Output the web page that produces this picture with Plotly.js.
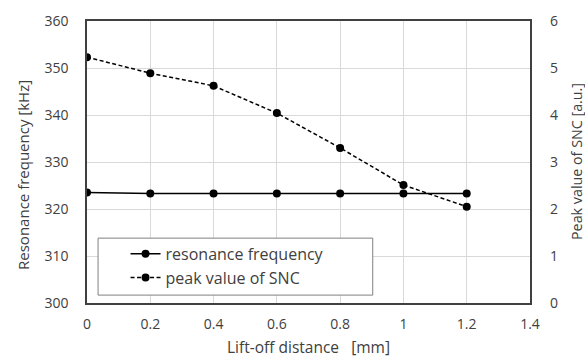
<!DOCTYPE html>
<html>
<head>
<meta charset="utf-8">
<script src="https://cdn.plot.ly/plotly-3.0.1.min.js"></script>
<style>html,body{margin:0;padding:0;background:#fff;}#chart{width:585px;height:359px;}</style>
</head>
<body>
<div id="chart"></div>
<script>
const liftOff = [0, 0.2, 0.4, 0.6, 0.8, 1.0, 1.2];
const resonanceFreq = [323.5, 323.3, 323.3, 323.3, 323.3, 323.3, 323.3];
const peakSNC = [5.23, 4.89, 4.62, 4.04, 3.30, 2.51, 2.05];
const xTicks = [0, 0.2, 0.4, 0.6, 0.8, 1, 1.2, 1.4];
const xTickLabels = ['0', '0.2', '0.4', '0.6', '0.8', '1', '1.2', '1.4'];
const xTitle = 'Lift-off distance\u00a0\u00a0\u00a0[mm]';
const yTitle = 'Resonance frequency [kHz]';
const y2Title = 'Peak value of SNC [a.u.]';

const fontFam = 'Open Sans, Noto Sans, sans-serif';
const txt = '#404040';

const traces = [
  {
    x: liftOff, y: resonanceFreq, name: 'resonance frequency',
    type: 'scatter', mode: 'lines+markers', yaxis: 'y',
    line: {color: '#000', width: 1.5},
    marker: {color: '#000', size: 8}
  },
  {
    x: liftOff, y: peakSNC, name: 'peak value of SNC',
    type: 'scatter', mode: 'lines+markers', yaxis: 'y2',
    line: {color: '#000', width: 1.5, dash: '4px,2.5px'},
    marker: {color: '#000', size: 8}
  }
];

const tickFont = {family: fontFam, size: 14, color: txt};

const layout = {
  width: 585, height: 359,
  margin: {l: 87, r: 55, t: 21, b: 56},
  paper_bgcolor: '#fff', plot_bgcolor: '#fff',
  font: {family: fontFam, size: 13, color: txt},
  showlegend: true,
  xaxis: {
    range: [0, 1.4], tickvals: xTicks, ticktext: xTickLabels,
    showgrid: true, gridcolor: '#d9d9d9', gridwidth: 1,
    showline: true, linecolor: '#404040', linewidth: 1.6, mirror: true,
    zeroline: false, ticks: '', ticklen: 0, ticklabelstandoff: 8,
    tickfont: tickFont
  },
  yaxis: {
    range: [300, 360], dtick: 10, tick0: 300,
    showgrid: true, gridcolor: '#d9d9d9', gridwidth: 1,
    showline: true, linecolor: '#404040', linewidth: 1.6, mirror: true,
    zeroline: false, ticks: '', ticklen: 0, ticklabelstandoff: 14,
    tickfont: tickFont
  },
  yaxis2: {
    range: [0, 6], dtick: 1, tick0: 0,
    overlaying: 'y', side: 'right',
    showgrid: false, zeroline: false, showline: false,
    ticks: '', ticklen: 0, ticklabelstandoff: 19,
    tickfont: tickFont
  },
  annotations: [
    {text: xTitle, xref: 'paper', yref: 'paper', x: 0.5, y: -0.155, xanchor: 'center', yanchor: 'middle',
     showarrow: false, font: {family: fontFam, size: 15.5, color: txt}},
    {text: yTitle, xref: 'paper', yref: 'paper', x: -0.1445, y: 0.454, xanchor: 'center', yanchor: 'middle',
     textangle: -90, showarrow: false, font: {family: fontFam, size: 15, color: txt}},
    {text: y2Title, xref: 'paper', yref: 'paper', x: 1.1038, y: 0.5035, xanchor: 'center', yanchor: 'middle',
     textangle: -90, showarrow: false, font: {family: fontFam, size: 14.3, color: txt}}
  ],
  legend: {
    x: 0.087, y: 0.235, xanchor: 'left', yanchor: 'top',
    xref: 'paper', yref: 'paper',
    bgcolor: 'rgba(0,0,0,0)', borderwidth: 0,
    font: {family: fontFam, size: 16, color: txt},
    itemwidth: 30, tracegroupgap: 0
  },
  shapes: [
    {type: 'rect', xref: 'paper', yref: 'paper', x0: 0.025, x1: 0.645, y0: 0.028, y1: 0.23,
     line: {color: '#808080', width: 1}, fillcolor: '#fff', layer: 'above'}
  ]
};

Plotly.newPlot('chart', traces, layout, {displayModeBar: false, staticPlot: true});
</script>
</body>
</html>
